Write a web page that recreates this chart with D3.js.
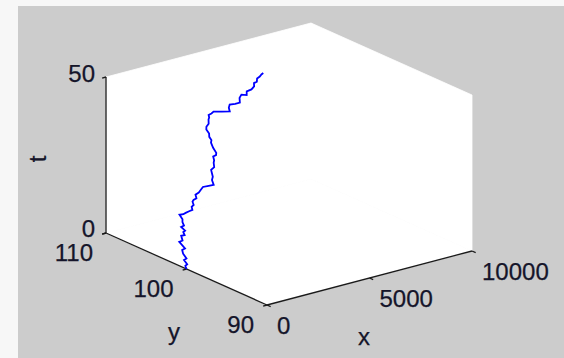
<!DOCTYPE html>
<html><head><meta charset="utf-8">
<script src="https://cdn.jsdelivr.net/npm/d3@7/dist/d3.min.js"></script>
<style>
html,body{margin:0;padding:0;background:#f7f7f7;}
svg{display:block;}
text{font-family:"Liberation Sans",Arial,sans-serif;font-size:24px;fill:#15152a;stroke:#15152a;stroke-width:0.25px;}
</style></head>
<body>
<svg id="chart" width="564" height="358"></svg>
<script>
// ---- data ----
const tValues = [0,0.6,1.1,1.7,2.3,3.0,3.7,4.3,5.2,5.8,6.7,7.2,7.7,8.2,8.6,9.2,9.8,10.4,11.1,11.6,12.1,12.8,13.4,14.0,14.6,15.2,15.7,16.3,17.0,17.8,18.6,19.4,20.2,20.9,21.8,22.6,23.3,23.9,24.8,25.7,26.3,27.0,27.6,28.1,28.9,29.8,30.4,30.9,31.6,32.2,32.8,33.7,34.6,35.1,35.6,36.2,36.8,37.6,38.4,39.1,39.9,40.6,41.3,42.3,43.2,43.6,44.4,45.3,46.2,46.9,47.5,48.2,48.9,49.5,50.0];
const yValues = [100.0,100.3,100.2,100.75,100.6,101.2,101.5,101.3,102.25,102.0,102.4,102.1,102.4,102.3,102.9,102.7,103.05,103.2,103.75,103.4,103.25,103.0,102.75,103.0,102.9,103.2,103.2,103.0,103.3,103.1,103.05,103.0,102.5,102.05,102.5,102.6,102.9,103.15,103.0,103.3,103.4,103.7,103.5,103.6,104.2,104.7,104.8,105.2,105.4,105.9,106.05,106.0,106.25,106.3,106.5,106.3,106.2,105.4,104.6,104.9,105.0,104.5,104.1,104.4,104.4,103.85,104.05,103.7,103.6,103.8,103.6,103.75,103.6,103.55,103.45];
const xValues = [0,61,112,173,235,306,377,439,530,592,683,734,785,836,877,938,1000,1061,1132,1183,1234,1306,1367,1428,1489,1550,1601,1663,1734,1816,1897,1979,2060,2132,2224,2305,2377,2438,2530,2621,2683,2754,2815,2866,2948,3040,3101,3152,3223,3284,3346,3437,3529,3580,3631,3692,3754,3835,3917,3988,4070,4141,4213,4315,4406,4447,4529,4621,4712,4784,4845,4916,4988,5049,5100];
const xTicks = [0, 5000, 10000];
const yTicks = [90, 100, 110];
const tTicks = [0, 50];
const xLabel = "x", yLabel = "y", tLabel = "t";

// ---- projection (3D view) ----
const origin = [267, 305];          // screen point of (x=0, y=90, t=0)
const ex = [205, -54];              // full x range
const ey = [-161, -72];             // full y range
const et = [0, -156];               // full t range
const sx = d3.scaleLinear().domain([0, 10000]).range([0, 1]);
const sy = d3.scaleLinear().domain([90, 110]).range([0, 1]);
const st = d3.scaleLinear().domain([0, 50]).range([0, 1]);
function proj(x, y, t) {
  const a = sx(x), b = sy(y), c = st(t);
  return [origin[0] + ex[0]*a + ey[0]*b + et[0]*c,
          origin[1] + ex[1]*a + ey[1]*b + et[1]*c];
}

const svg = d3.select("#chart");
svg.append("rect").attr("x", 18).attr("y", 6).attr("width", 546).attr("height", 352).attr("fill", "#cccccc");

const [x0, x1] = sx.domain(), [y0, y1] = sy.domain(), [t0, t1] = st.domain();
const faces = [
  [[x0,y0,t0],[x1,y0,t0],[x1,y1,t0],[x0,y1,t0]],   // floor
  [[x0,y1,t0],[x1,y1,t0],[x1,y1,t1],[x0,y1,t1]],   // back wall y=max
  [[x1,y0,t0],[x1,y1,t0],[x1,y1,t1],[x1,y0,t1]]    // back wall x=max
];
svg.append("g").selectAll("path").data(faces).join("path")
  .attr("d", f => "M" + f.map(p => proj(...p).join(",")).join("L") + "Z")
  .attr("fill", "#ffffff").attr("stroke", "#ffffff").attr("stroke-width", 0.8);

// axes lines
const axG = svg.append("g").attr("stroke", "#1a1a1a").attr("stroke-width", 1.3).attr("fill", "none");
const seg = (p, q) => axG.append("line").attr("x1", p[0]).attr("y1", p[1]).attr("x2", q[0]).attr("y2", q[1]);
seg(proj(x0,y0,t0), proj(x1,y0,t0));  // x axis
seg(proj(x0,y0,t0), proj(x0,y1,t0));  // y axis
seg(proj(x0,y1,t0), proj(x0,y1,t1));  // t axis

// ticks
const tickLen = 4;
const nx = Math.hypot(ex[0], ex[1]), ny = Math.hypot(ey[0], ey[1]);
const dirMinusX = [-ex[0]/nx*tickLen, -ex[1]/nx*tickLen];
const dirMinusY = [-ey[0]/ny*tickLen, -ey[1]/ny*tickLen];
xTicks.forEach(v => { const p = proj(v, y0, t0); seg(p, [p[0]+dirMinusY[0], p[1]+dirMinusY[1]]); });
yTicks.forEach(v => { const p = proj(x0, v, t0); seg(p, [p[0]+dirMinusX[0], p[1]+dirMinusX[1]]); });
tTicks.forEach(v => { const p = proj(x0, y1, v); seg(p, [p[0]+dirMinusX[0], p[1]+dirMinusX[1]]); });

// tick labels
const lab = svg.append("g");
tTicks.forEach(v => { const p = proj(x0, y1, v);
  lab.append("text").attr("x", p[0]-11).attr("y", p[1]+(v===t1?5:4)).attr("text-anchor","end").text(v); });
yTicks.forEach(v => { const p = proj(x0, v, t0);
  lab.append("text").attr("x", p[0]-13).attr("y", p[1]+28).attr("text-anchor","end").text(v); });
xTicks.forEach(v => { const p = proj(v, y0, t0);
  lab.append("text").attr("x", p[0]+10).attr("y", p[1]+29).attr("text-anchor","start").text(v); });

// axis titles
lab.append("text").attr("x", 174).attr("y", 340).attr("text-anchor","middle").text(yLabel);
lab.append("text").attr("x", 364).attr("y", 345).attr("text-anchor","middle").text(xLabel);
lab.append("text").attr("transform","translate(46,159) rotate(-90)").attr("text-anchor","middle").text(tLabel);

// data line
const pts = tValues.map((t, i) => proj(xValues[i], yValues[i], t));
svg.append("path").attr("d", d3.line()(pts))
  .attr("fill", "none").attr("stroke", "#0000ff").attr("stroke-width", 1.8).attr("stroke-linejoin","miter");
</script>
</body></html>
